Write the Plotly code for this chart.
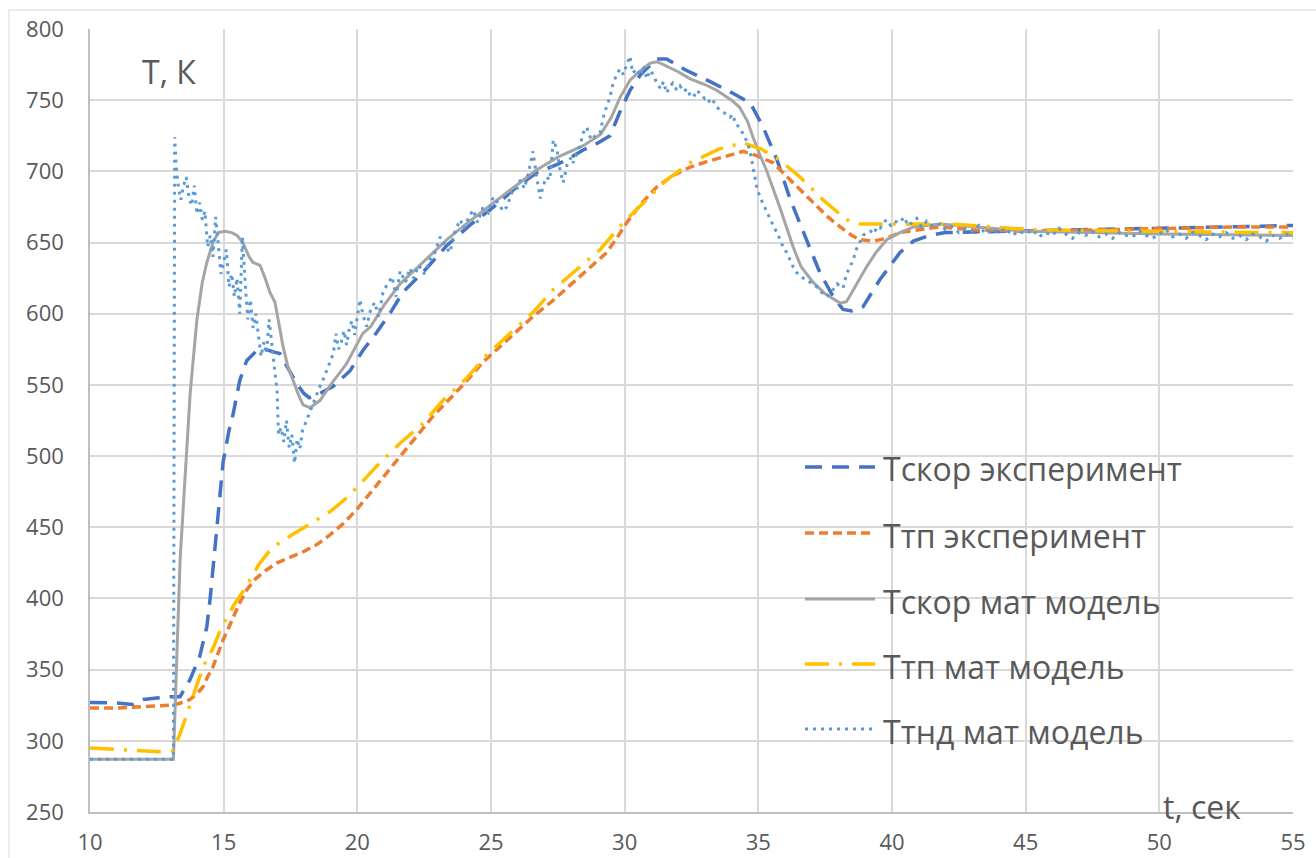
import plotly.graph_objects as go

# ---- Тскор эксперимент ----
t_scor_exp = [10, 11, 11.6, 12, 12.5, 13, 13.37, 13.74, 14.1, 14.37, 14.5, 14.6, 14.8, 14.98,
              15.2, 15.36, 15.6, 15.86, 16.23, 16.55, 16.9, 17.1, 17.4, 17.73, 18.0, 18.2, 18.5,
              19.1, 19.73, 20.2, 20.73, 21.28, 21.7, 22.5, 23.35, 24.2, 25.1, 25.9, 26.7, 27.5,
              28.0, 28.45, 29.0, 29.45, 29.83, 30.2, 30.6, 31.2, 31.57, 32.3, 33.2, 33.94, 34.7,
              35.18, 35.7, 36.2, 36.8, 37.3, 37.8, 38.17, 38.5, 38.92, 39.55, 40.3, 40.8, 41.4,
              42, 44, 47, 50, 53, 55]
T_scor_exp = [327, 326.5, 325.5, 329, 330, 331, 331, 343, 359, 380, 401, 420, 460, 496,
              518, 530, 553, 567, 574, 575, 573, 572, 562, 551, 544, 541, 543,
              549, 560, 574, 587, 602, 615, 630, 648, 662, 675, 688, 699, 705,
              710, 715, 720, 725, 742, 757, 768, 779, 779, 771, 763, 756, 748,
              731, 708, 680, 652, 629, 612, 603, 602, 605, 624, 643, 651, 655,
              657, 658, 659, 660, 661, 662]

# ---- Ттп эксперимент ----
t_tp_exp = [10, 11, 12, 12.5, 13, 13.3, 13.55, 13.74, 14.0, 14.23, 14.4, 14.6, 14.8, 14.98,
            15.2, 15.36, 15.6, 15.86, 16.2, 16.6, 17.0, 17.5, 18.0, 18.5, 19.0, 19.5, 20.0,
            20.35, 21.0, 21.6, 22.2, 22.83, 23.5, 24.1, 24.7, 25.34, 26.0, 26.57, 27.3, 28.07,
            28.7, 29.33, 29.7, 30.08, 30.6, 31.2, 31.8, 32.45, 33.1, 33.7, 34.43, 34.94, 35.56,
            36.3, 36.8, 37.2, 37.6, 38.06, 38.5, 38.8, 39.3, 39.8, 40.3, 41.0, 41.8, 43, 45,
            48, 50, 53, 55]
T_tp_exp = [323, 323, 324, 324.5, 325, 326, 327.5, 329, 333, 338, 345, 352, 362, 371,
            380, 387, 397, 406, 414, 420, 425, 429, 433, 438, 445, 453, 463,
            471, 486, 500, 514, 528, 541, 553, 566, 577, 588, 598, 609, 622,
            632, 643, 653, 664, 677, 689, 697, 703, 707, 710, 714, 711, 706,
            692, 683, 675, 668, 661, 655, 652, 651, 653, 657, 659, 661, 659, 658,
            659, 660, 661, 661]

# ---- Тскор мат модель ----
t_scor_mod = [10, 13.12, 13.25, 13.37, 13.55, 13.75, 14.0, 14.2, 14.37, 14.6, 14.8, 15.05,
              15.3, 15.5, 15.72, 15.95, 16.1, 16.36, 16.55, 16.73, 16.92, 17.05, 17.22, 17.4,
              17.6, 17.8, 17.97, 18.23, 18.6, 19.0, 19.6, 20.2, 20.5, 21.0, 21.6, 22.5, 23.35,
              24.2, 25.1, 25.9, 26.7, 27.5, 28.45, 29.1, 29.5, 29.83, 30.2, 30.6, 30.95, 31.2,
              31.45, 32.0, 32.45, 33.0, 33.44, 34.0, 34.3, 34.6, 34.8, 35.05, 35.3, 35.8, 36.3,
              36.6, 37.05, 37.5, 38.06, 38.3, 38.6, 39.05, 39.4, 39.8, 40.3, 40.8, 41.8, 43,
              45, 50, 55]
T_scor_mod = [287, 287, 360, 427, 483, 545, 596, 622, 636, 650, 657, 658,
              657, 655, 650, 640, 636, 634, 625, 615, 608, 595, 577, 563,
              553, 543, 536, 534, 539, 550, 565, 586, 591, 606, 621, 637, 652,
              665, 678, 690, 701, 710, 718, 726, 738, 752, 764, 771, 776, 777,
              775, 770, 765, 761, 757, 750, 745, 735, 724, 712, 701, 675, 647,
              633, 622, 614, 607.5, 608.5, 618, 633, 643, 652, 657, 661, 663, 661,
              658, 656, 655]

# ---- Ттп мат модель ----
t_tp_mod = [10, 11, 12, 12.62, 13.1, 13.37, 13.74, 14.0, 14.23, 14.6, 14.86, 15.1, 15.4,
            15.73, 16.0, 16.36, 16.7, 17.0, 17.5, 17.86, 18.5, 18.98, 19.5, 19.98, 20.73,
            21.6, 22.46, 23.2, 24.1, 24.84, 25.7, 26.57, 27.33, 28.33, 29.08, 29.95, 30.58,
            31.57, 32.45, 33.57, 34.43, 35.07, 35.8, 36.56, 37.42, 38.3, 38.8, 39.5, 40.55,
            42.17, 45.3, 49, 54, 55]
T_tp_mod = [295, 294, 293, 292.4, 293, 305, 325, 340, 352, 365, 377, 386, 396,
            405, 414, 425, 433, 438, 444, 448, 455, 461, 469, 478, 493,
            509, 523, 539, 555, 571, 586, 601, 617, 633, 645, 664, 676,
            694, 706, 716, 720, 716, 708, 696, 680, 666, 663, 663, 663,
            663, 659, 658, 657, 657]

# ---- Ттнд мат модель ----
t_tnd_mod = [10, 13.12, 13.17, 13.22, 13.3, 13.4, 13.5, 13.6, 13.7, 13.8, 13.9, 14.0, 14.1,
             14.2, 14.3, 14.4, 14.5, 14.6, 14.7, 14.8, 14.9, 15.0, 15.1, 15.2, 15.3, 15.4,
             15.5, 15.6, 15.7, 15.8, 15.9, 16.0, 16.1, 16.2, 16.3, 16.4, 16.5, 16.6, 16.7,
             16.8, 16.9, 17.0, 17.05, 17.15, 17.25, 17.35, 17.45, 17.55, 17.65, 17.75, 17.85,
             17.95, 18.1, 18.2, 18.35, 18.5, 18.6, 18.75, 18.9, 19.0, 19.1, 19.2, 19.3, 19.4,
             19.5, 19.6, 19.7, 19.8, 19.9, 20.0, 20.1, 20.2, 20.35, 20.5, 20.65, 20.8, 20.96,
             21.1, 21.3, 21.45, 21.6, 21.8, 21.97, 22.1, 22.3, 22.5, 22.72, 22.9, 23.1, 23.3,
             23.47, 23.6, 23.84, 24.0, 24.15, 24.33, 24.5, 24.7, 24.9, 25.08, 25.3, 25.45,
             25.59, 25.8, 25.96, 26.09, 26.25, 26.4, 26.57, 26.7, 26.84, 26.95, 27.08, 27.2,
             27.33, 27.46, 27.58, 27.7, 27.85, 28.0, 28.07, 28.2, 28.33, 28.45, 28.58, 28.75,
             28.9, 29.08, 29.2, 29.33, 29.45, 29.57, 29.7, 29.83, 29.95, 30.08, 30.2, 30.3,
             30.45, 30.58, 30.7, 30.83, 30.95, 31.07, 31.2, 31.35, 31.45, 31.57, 31.7, 31.8,
             31.95, 32.07, 32.2, 32.35, 32.45, 32.57, 32.7, 32.85, 33.0, 33.07, 33.2, 33.3,
             33.44, 33.6, 33.75, 33.94, 34.05, 34.15, 34.3, 34.45, 34.6, 34.7, 34.82, 34.94,
             35.06, 35.2, 35.32, 35.45, 35.58, 35.7, 35.85, 35.95, 36.06, 36.2, 36.3, 36.43,
             36.55, 36.68, 36.8, 36.94, 37.05, 37.18, 37.3, 37.43, 37.56, 37.7, 37.8, 37.95,
             38.06, 38.17, 38.3, 38.43, 38.55, 38.68, 38.8, 38.92, 39.05, 39.2, 39.3, 39.45,
             39.55, 39.68, 39.8, 39.95, 40.1, 40.3, 40.45, 40.6, 40.75, 40.93, 41.1, 41.3,
             41.55, 41.8, 42.0, 42.25, 42.5, 42.75, 43.0, 43.25, 43.5, 43.75, 44.0, 44.25,
             44.5, 44.75, 45.0, 45.25, 45.5, 45.75, 46.0, 46.25, 46.5, 46.75, 47.0, 47.25,
             47.5, 47.75, 48.0, 48.25, 48.5, 48.75, 49.0, 49.25, 49.5, 49.75, 50.0, 50.25,
             50.5, 50.75, 51.0, 51.25, 51.5, 51.75, 52.0, 52.25, 52.5, 52.75, 53.0, 53.25,
             53.5, 53.75, 54.0, 54.25, 54.5, 54.75, 55.0]
T_tnd_mod = [287, 287, 724, 705, 690, 680, 690, 696, 682, 676, 690, 670, 678,
             666, 672, 647, 655, 640, 668, 645, 628, 636, 645, 619, 628, 612,
             625, 600, 654, 623, 596, 610, 590, 600, 584, 570, 580, 572, 596,
             580, 562, 545, 515, 520, 510, 525, 506, 515, 495, 512, 505,
             518, 525, 530, 537, 545, 549, 555, 562, 568, 572, 586, 575, 580,
             588, 578, 590, 595, 585, 598, 610, 600, 591, 603, 608, 598, 615,
             620, 626, 612, 630, 622, 632, 625, 634, 628, 638, 643, 654, 647,
             643, 655, 666, 660, 667, 673, 664, 675, 671, 682, 677, 672,
             675, 686, 687, 694, 688, 699, 714, 697, 681, 690, 696, 694,
             722, 716, 701, 692, 705, 710, 706, 712, 718, 727, 731, 722,
             725, 727, 738, 746, 752, 762, 768, 772, 768, 775, 781, 769,
             772, 767, 774, 765, 771, 768, 762, 758, 763, 755, 760, 762,
             757, 760, 756, 758, 753, 752, 757, 754, 751, 752, 748, 750,
             745, 743, 741, 738, 740, 733, 731, 726, 720, 713, 700, 689,
             682, 676, 671, 666, 661, 657, 651, 646, 643, 637, 633, 629,
             627, 625, 624, 622, 621, 619, 616, 614, 612, 615, 617, 621,
             619, 618, 628, 633, 638, 646, 651, 655, 657, 658, 656, 661,
             660, 664, 666, 662, 665, 664, 668, 662, 664, 667, 661, 665,
             661, 663, 659, 661, 657, 660, 658, 662, 656, 659, 657, 660,
             655, 658, 656, 659, 654, 657, 655, 660, 656, 653, 657, 655,
             658, 654, 656, 653, 657, 655, 654, 658, 655, 653, 656, 659,
             654, 656, 653, 657, 655, 652, 656, 654, 657, 653, 655, 652,
             656, 654, 651, 655, 653, 656, 653]

# series styling: name, x, y, colour, dash, width
series = [
    ("Тскор эксперимент", t_scor_exp, T_scor_exp, "#4472C4", "17px,10px", 3.5),
    ("Ттп эксперимент", t_tp_exp, T_tp_exp, "#ED7D31", "9px,5px", 3.5),
    ("Тскор мат модель", t_scor_mod, T_scor_mod, "#A5A5A5", "solid", 3),
    ("Ттп мат модель", t_tp_mod, T_tp_mod, "#FFC000", "24px,10px,3px,10px", 3.5),
    ("Ттнд мат модель", t_tnd_mod, T_tnd_mod, "#5B9BD5", "3px,5px", 3),
]

# plot-area geometry (pixels)
W_FIG, H_FIG = 1316, 858
L, R, T, B = 90, 1293, 29, 812
PW, PH = R - L, B - T


def fx(px):
    return (px - L) / PW


def fy(py):
    return (B - py) / PH


TEXT = "#595959"
FONT = "Open Sans"
BIG = 32
TICK = 22

fig = go.Figure()
for name, xs, ys, color, dash, width in series:
    fig.add_trace(go.Scatter(
        x=xs, y=ys, mode="lines", name=name, showlegend=False,
        line=dict(color=color, dash=dash, width=width),
    ))

shapes = []
annotations = []

# outer chart frame
shapes.append(dict(type="rect", xref="paper", yref="paper",
                   x0=fx(9), x1=fx(1330), y0=fy(10), y1=fy(870),
                   line=dict(color="#D9D9D9", width=1), layer="below"))

# legend: line samples and labels
legend_y = [467, 533, 599, 664, 729]
for (name, _, _, color, dash, width), ly in zip(series, legend_y):
    shapes.append(dict(type="line", xref="paper", yref="paper",
                       x0=fx(805), x1=fx(875), y0=fy(ly), y1=fy(ly),
                       line=dict(color=color, dash=dash, width=width)))
    annotations.append(dict(xref="paper", yref="paper", x=fx(881), y=fy(ly + 2),
                            xanchor="left", yanchor="middle", text=name,
                            showarrow=False, font=dict(family=FONT, size=BIG, color=TEXT)))

# axis titles placed inside the plot area
annotations.append(dict(xref="paper", yref="paper", x=fx(169), y=fy(72),
                        xanchor="center", yanchor="middle", text="Т, К",
                        showarrow=False, font=dict(family=FONT, size=BIG, color=TEXT)))
annotations.append(dict(xref="paper", yref="paper", x=fx(1202), y=fy(806),
                        xanchor="center", yanchor="middle", text="t, сек",
                        showarrow=False, font=dict(family=FONT, size=BIG, color=TEXT)))

axis_common = dict(showgrid=True, gridcolor="#D9D9D9", gridwidth=1.5, zeroline=False,
                   showline=True, linecolor="#BFBFBF", linewidth=1.5,
                   ticks="outside", tickcolor="rgba(0,0,0,0)",
                   automargin=False,
                   tickfont=dict(family=FONT, size=TICK, color=TEXT))

fig.update_layout(
    width=W_FIG, height=H_FIG,
    margin=dict(l=L, r=W_FIG - R, t=T, b=H_FIG - B, pad=0, autoexpand=False),
    paper_bgcolor="white", plot_bgcolor="white",
    font=dict(family=FONT, size=TICK, color=TEXT),
    shapes=shapes, annotations=annotations,
    showlegend=False,
    xaxis=dict(range=[10, 55], tick0=10, dtick=5, ticklen=10, **axis_common),
    yaxis=dict(range=[250, 800], tick0=250, dtick=50, ticklen=20, **axis_common),
)

fig.write_html("out.html")
